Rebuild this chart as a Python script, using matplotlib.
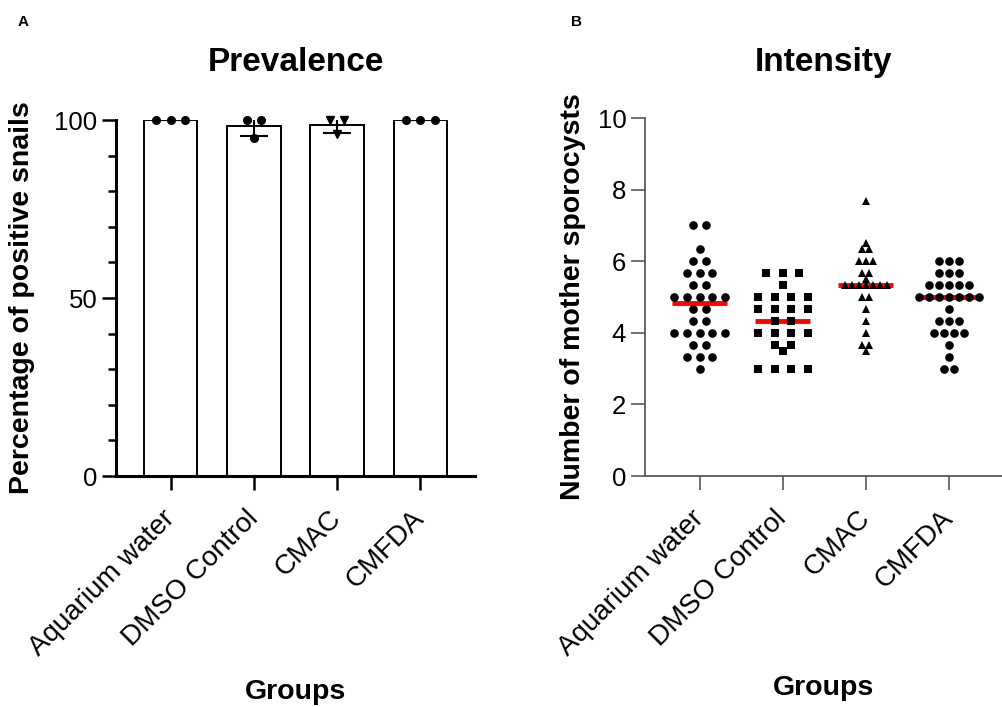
import numpy as np
import matplotlib
matplotlib.use("Agg")
import matplotlib.pyplot as plt

plt.rcParams["font.family"] = ["Liberation Sans", "DejaVu Sans"]

groups = ["Aquarium water", "DMSO Control", "CMAC", "CMFDA"]

# Panel A: percentage of positive snails, three replicates per group
prev_aquarium = [100, 100, 100]
prev_dmso = [100, 100, 95]
prev_cmac = [100, 100, 96]
prev_cmfda = [100, 100, 100]

# Panel B: number of mother sporocysts per snail
int_aquarium = [7.0, 7.0, 6.33, 6.0, 6.0, 5.67, 5.67, 5.67, 5.33, 5.33,
                5.0, 5.0, 5.0, 5.0, 5.0, 4.67, 4.67, 4.33, 4.33,
                4.0, 4.0, 4.0, 4.0, 4.0, 3.67, 3.67, 3.33, 3.33, 3.33, 3.0]
int_dmso = [5.67, 5.67, 5.67, 5.33, 5.0, 5.0, 5.0, 5.0, 4.67, 4.67, 4.67, 4.67,
            4.33, 4.33, 4.0, 4.0, 4.0, 4.0, 3.67, 3.67, 3.5, 3.0, 3.0, 3.0, 3.0]
int_cmac = [7.67, 6.5, 6.33, 6.33, 6.0, 6.0, 6.0, 5.67, 5.67, 5.5,
            5.33, 5.33, 5.33, 5.33, 5.33, 5.33, 5.33, 5.0, 5.0,
            4.67, 4.33, 4.0, 3.67, 3.67, 3.5]
int_cmfda = [6.0, 6.0, 6.0, 5.67, 5.67, 5.67, 5.33, 5.33, 5.33, 5.33, 5.33,
             5.0, 5.0, 5.0, 5.0, 5.0, 5.0, 5.0, 4.67, 4.33, 4.33, 4.33,
             4.0, 4.0, 4.0, 4.0, 3.67, 3.33, 3.0, 3.0]


def spread(values, step):
  values = np.asarray(values, dtype=float)
  offsets = np.zeros(len(values))
  for v in np.unique(values):
    idx = np.where(np.isclose(values, v))[0]
    offsets[idx] = (np.arange(len(idx)) - (len(idx) - 1) / 2) * step
  return offsets


fig = plt.figure(figsize=(10.02, 7.07), dpi=100)
W, H = 1002, 707
ax1 = fig.add_axes([116 / W, 1 - 476 / H, 359 / W, 356 / H])
ax2 = fig.add_axes([645 / W, 1 - 476 / H, 357 / W, 358 / H])

x = np.arange(len(groups))

# ---- Panel A
prev_sets = [prev_aquarium, prev_dmso, prev_cmac, prev_cmfda]
means = [np.mean(s) for s in prev_sets]
sds = [np.std(s, ddof=1) for s in prev_sets]
ax1.bar(x, means, width=0.64, color="white", edgecolor="black", linewidth=1.4, zorder=2)
ax1.errorbar(x, means, yerr=sds, fmt="none", ecolor="black", elinewidth=1.5,
             capsize=10, capthick=1.5, zorder=3)
markers_a = ["o", "o", "v", "o"]
for i, s in enumerate(prev_sets):
  ax1.plot(i + spread(s, 0.175), s, linestyle="none", marker=markers_a[i],
           markersize=5.5, color="black", zorder=4, clip_on=False)

ax1.set_xlim(-0.66, 3.66)
ax1.set_ylim(0, 100)
ax1.set_yticks([0, 50, 100])
ax1.set_yticks(np.arange(0, 101, 10), minor=True)
for side in ["top", "right"]:
  ax1.spines[side].set_visible(False)
for side in ["left", "bottom"]:
  ax1.spines[side].set_linewidth(2.2)
ax1.tick_params(axis="both", which="major", length=10, width=1.8, labelsize=18.5)
ax1.tick_params(axis="y", which="minor", length=5.5, width=1.8)
ax1.set_title("Prevalence", fontsize=24, fontweight="bold", pad=35)
ax1.set_ylabel("Percentage of positive snails", fontsize=20.5, fontweight="bold")
ax1.yaxis.set_label_coords(-0.225, 0.5)
ax1.set_xlabel("Groups", fontsize=20.5, fontweight="bold")
ax1.xaxis.set_label_coords(0.5, -0.57)

# ---- Panel B
int_sets = [int_aquarium, int_dmso, int_cmac, int_cmfda]
markers_b = ["o", "s", "^", "o"]
sizes_b = [6.2, 5.6, 5.2, 6.2]
steps_b = [0.153, 0.2, 0.085, 0.12]
for i, s in enumerate(int_sets):
  med = np.median(s)
  ax2.hlines(med, i - 0.33, i + 0.33, color="red", linewidth=3.5, zorder=2)
  ax2.plot(i + spread(s, steps_b[i]), s, linestyle="none", marker=markers_b[i],
           markersize=sizes_b[i], color="black", markeredgewidth=0, zorder=3)

ax2.set_xlim(-0.66, 3.64)
ax2.set_ylim(0, 10)
ax2.set_yticks(np.arange(0, 11, 2))
for side in ["top", "right"]:
  ax2.spines[side].set_visible(False)
for side in ["left", "bottom"]:
  ax2.spines[side].set_linewidth(1.3)
  ax2.spines[side].set_color("0.35")
ax2.tick_params(axis="both", which="major", length=10, width=1.2, color="0.35",
                labelsize=18.5)
ax2.set_title("Intensity", fontsize=24, fontweight="bold", pad=34)
ax2.set_ylabel("Number of mother sporocysts", fontsize=20.5, fontweight="bold")
ax2.yaxis.set_label_coords(-0.165, 0.5)
ax2.set_xlabel("Groups", fontsize=20.5, fontweight="bold")
ax2.xaxis.set_label_coords(0.5, -0.555)

for ax in (ax1, ax2):
  ax.set_xticks(x)
  ax.set_xticklabels(groups, rotation=45, ha="right", va="center",
                     rotation_mode="anchor", fontsize=20)
  ax.tick_params(axis="x", pad=18)

fig.text(18 / W, 1 - 22 / H, "A", fontsize=11, fontweight="bold", va="center")
fig.text(571 / W, 1 - 22 / H, "B", fontsize=11, fontweight="bold", va="center")

fig.savefig("out.png", dpi=100)
